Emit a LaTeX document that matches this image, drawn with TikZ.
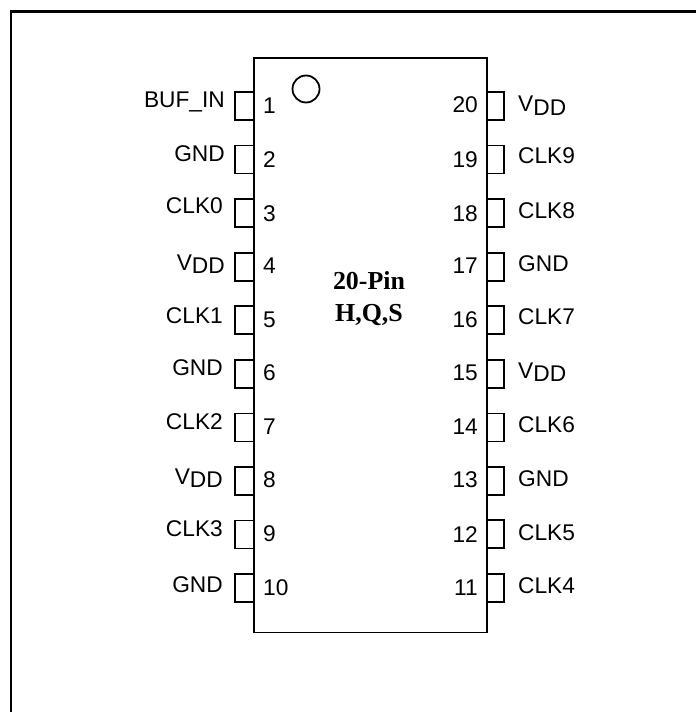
\documentclass[tikz,border=0pt]{standalone}
\usepackage{fontspec}
\setmainfont{Liberation Sans}
\newfontfamily\chipserif{Liberation Serif}
\tikzset{
  frameline/.style={line width=2.6pt,line cap=butt,line join=miter},
  chipline/.style={line width=1.8pt,line join=miter},
  pinlabel/.style={inner sep=0pt,font=\fontsize{22.8}{24}\selectfont},
  leftlabel/.style={pinlabel,anchor=base east},
  rightlabel/.style={pinlabel,anchor=base west},
  chiptitle/.style={inner sep=0pt,anchor=base,font=\chipserif\bfseries\fontsize{26}{28}\selectfont},
}
\newcommand{\vdd}{\makebox{V\raisebox{-4pt}{DD}}}
\begin{document}
\begin{tikzpicture}[x=1bp,y=-1bp]
\useasboundingbox (0,0) rectangle (696,712);
% outer frame, open at right and bottom
\draw[frameline] (11,712) -- (11,11.5) -- (696,11.5);
% chip body
\node[draw,chipline,minimum width=233bp,minimum height=574.5bp,inner sep=0pt,anchor=north west] (chip) at (253,57) {};
\node[draw,chipline,circle,minimum size=27bp,inner sep=0pt] (dot) at (306,89) {};
% pin stubs
\foreach \y [count=\i] in {92,145.5,199,253,306,360,413.5,467,520.5,574}{
  \draw[chipline] (253,\y) -- (235,\y) -- (235,\y+28) -- (253,\y+28);
}
\foreach \y [count=\i] in {92,145.5,199,253,306,360,413.5,467,520,574}{
  \draw[chipline] (486,\y) -- (504,\y) -- (504,\y+28) -- (486,\y+28);
}
% left pin names
\node[leftlabel] (l1) at (225,108) {BUF\_IN};
\node[leftlabel] (l2) at (225,161) {GND};
\node[leftlabel] (l3) at (223,213) {CLK0};
\node[leftlabel] (l4) at (225,270) {\vdd};
\node[leftlabel] (l5) at (223,323) {CLK1};
\node[leftlabel] (l6) at (223,375) {GND};
\node[leftlabel] (l7) at (223,429) {CLK2};
\node[leftlabel] (l8) at (223,484) {\vdd};
\node[leftlabel] (l9) at (223,536) {CLK3};
\node[leftlabel] (l10) at (223,592) {GND};
% left pin numbers
\foreach \n/\y in {1/114,2/167,3/221,4/273,5/327,6/380,7/434,8/487,9/541,10/595}{
  \node[pinlabel,anchor=base west] (ln\n) at (263,\y) {\n};
}
% right pin numbers
\foreach \n/\y in {20/113,19/167,18/221,17/273,16/327,15/380,14/434,13/487,12/542,11/595}{
  \node[pinlabel,anchor=base east] (rn\n) at (478,\y) {\n};
}
% right pin names
\node[rightlabel] (r20) at (518,112) {\vdd};
\node[rightlabel] (r19) at (518,163) {CLK9};
\node[rightlabel] (r18) at (518,218) {CLK8};
\node[rightlabel] (r17) at (518,271) {GND};
\node[rightlabel] (r16) at (518,324) {CLK7};
\node[rightlabel] (r15) at (518,378) {\vdd};
\node[rightlabel] (r14) at (518,432) {CLK6};
\node[rightlabel] (r13) at (518,486) {GND};
\node[rightlabel] (r12) at (518,540) {CLK5};
\node[rightlabel] (r11) at (518,593) {CLK4};
% title
\node[chiptitle] (t1) at (369,289) {20-Pin};
\node[chiptitle] (t2) at (369,321) {H,Q,S};
\end{tikzpicture}
\end{document}
